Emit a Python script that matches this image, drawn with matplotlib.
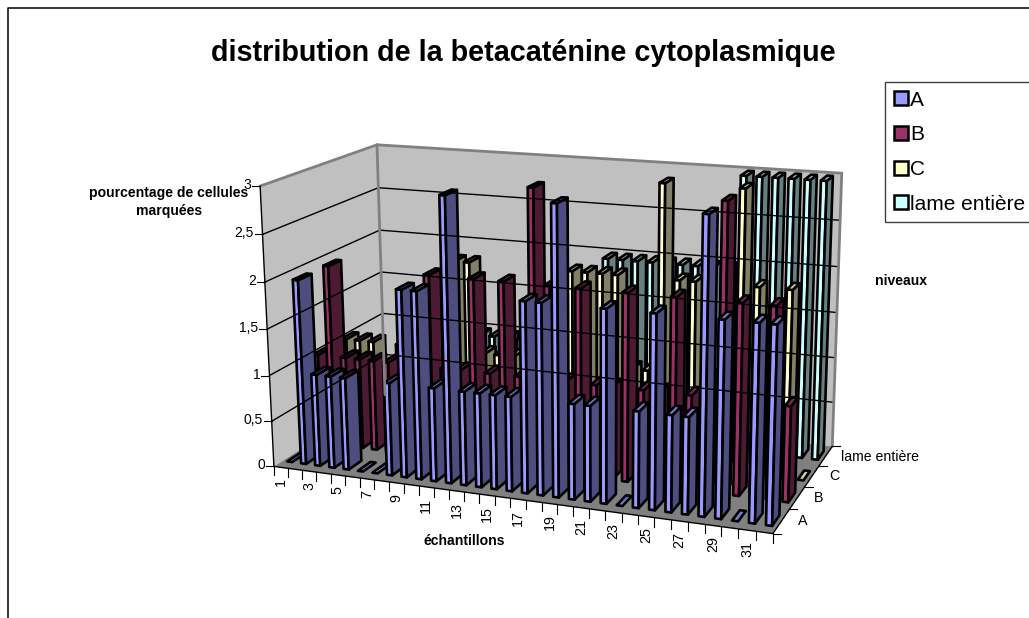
import numpy as np
import matplotlib
matplotlib.use('Agg')
import matplotlib.pyplot as plt
from matplotlib.patches import Patch

plt.rcParams['font.family'] = ['Liberation Sans', 'DejaVu Sans']

samples = list(range(1, 33))
levels = ['A', 'B', 'C', 'lame entière']

level_a = [0, 2, 1, 1, 1, 0, 0, 1, 2, 2, 1, 3, 1, 1, 1, 1, 2, 2, 3, 1, 1, 2, 0, 1, 2, 1, 1, 3, 2, 0, 2, 2]
level_b = [1, 2, 1, 1, 1, 1, 0, 1, 2, 1, 1, 2, 1, 2, 1, 3, 2, 1, 2, 1, 1, 2, 1, 1, 2, 1, 1, 3, 2, 1, 2, 1]
level_c = [1, 1, 1, 0, 1, 1, 1, 1, 2, 2, 1, 1, 1, 1, 1, 1, 2, 2, 2, 2, 1, 1, 3, 2, 2, 1, 1, 3, 2, 1, 2, 0]
level_l = [0, 0, 0, 0, 0, 1, 1, 1, 1, 1, 1, 1, 1, 1, 1, 1, 1, 2, 2, 2, 2, 2, 2, 2, 2, 2, 3, 3, 3, 3, 3, 3]
series = [level_a, level_b, level_c, level_l]

z_ticks = [0, 0.5, 1, 1.5, 2, 2.5, 3]
z_labels = ['0', '0,5', '1', '1,5', '2', '2,5', '3']

front_colors = ['#9999FF', '#993366', '#FFFFCC', '#CCFFFF']
side_colors = ['#4D4D80', '#4D1A33', '#808066', '#668080']
top_colors = ['#7A7ACC', '#7A2952', '#CCCCA3', '#A3CCCC']

nx, ny, nz = len(samples), len(levels), 3
bar_w = 0.36
bar_d = 0.44


# camera fitted on the corners of the chart box, in pixels of the picture
box_3d = [(0, 0, 0), (0, 0, nz), (0, ny, 0), (0, ny, nz), (nx, ny, 0), (nx, ny, nz), (nx, 0, 0)]
box_px = [(273, 467), (261, 186), (386, 394), (376, 145), (832, 447), (842, 173), (773, 533)]


def fit_camera(pts, pix):
    rows, rhs = [], []
    for (x, y, z), (u, v) in zip(pts, pix):
        rows.append([x, y, z, 1, 0, 0, 0, 0, -u * x, -u * y, -u * z])
        rows.append([0, 0, 0, 0, x, y, z, 1, -v * x, -v * y, -v * z])
        rhs += [u, v]
    p = np.linalg.lstsq(np.array(rows, float), np.array(rhs, float), rcond=None)[0]
    return np.append(p, 1).reshape(3, 4)


cam = fit_camera(box_3d, box_px)


def proj(x, y, z):
    u, v, w = cam @ np.array([x, y, z, 1.0])
    return u / w, v / w


def face(pts, **kw):
    xy = [proj(*p) for p in pts]
    ax.fill([p[0] for p in xy], [p[1] for p in xy], **kw)


def seg(a, b, **kw):
    pa, pb = proj(*a), proj(*b)
    ax.plot([pa[0], pb[0]], [pa[1], pb[1]], solid_capstyle='round', **kw)


fig = plt.figure(figsize=(10.29, 6.18), dpi=100)
ax = fig.add_axes([0, 0, 1, 1])
ax.set_xlim(0, 1029)
ax.set_ylim(618, 0)
ax.axis('off')

# cadre du graphique
ax.plot([7.5, 7.5, 1029], [618, 8, 8], color='black', lw=1.1)

# parois et sol
face([(0, 0, 0), (0, ny, 0), (0, ny, nz), (0, 0, nz)], fc='#C0C0C0', ec='none')
face([(0, ny, 0), (nx, ny, 0), (nx, ny, nz), (0, ny, nz)], fc='#C0C0C0', ec='none')
face([(0, 0, 0), (nx, 0, 0), (nx, ny, 0), (0, ny, 0)], fc='#808080', ec='none')

for z in z_ticks[1:-1]:
    seg((0, 0, z), (0, ny, z), color='black', lw=1)
    seg((0, ny, z), (nx, ny, z), color='black', lw=1)
seg((0, 0, nz), (0, ny, nz), color='#808080', lw=2)
seg((0, ny, nz), (nx, ny, nz), color='#808080', lw=2)
seg((0, ny, 0), (0, ny, nz), color='#808080', lw=2)
seg((nx, ny, 0), (nx, ny, nz), color='#808080', lw=2)

# axes
seg((0, 0, 0), (0, 0, nz), color='black', lw=1)
seg((0, 0, 0), (nx, 0, 0), color='black', lw=1)
seg((nx, 0, 0), (nx, ny, 0), color='black', lw=1)

for z, lab in zip(z_ticks, z_labels):
    u, v = proj(0, 0, z)
    ax.plot([u - 8, u], [v, v], color='black', lw=0.8)
    ax.text(u - 9, v - 1, lab, ha='right', va='center', fontsize=10)

for i in range(nx + 1):
    u, v = proj(i, 0, 0)
    ax.plot([u, u], [v, v + 9], color='black', lw=0.8)
for i in range(0, nx, 2):
    u, v = proj(i + 0.5, 0, 0)
    ax.text(u, v + 11, str(samples[i]), rotation=90, ha='center', va='top', fontsize=10.3)

for j in range(ny + 1):
    u, v = proj(nx, j, 0)
    ax.plot([u, u + 8], [v, v], color='black', lw=0.8)
for j, lab in enumerate(levels):
    u, v = proj(nx, j + 0.5, 0)
    if j == 3:
        ax.text(u + 15, v + 1, lab, ha='left', va='center', fontsize=10.2)
    else:
        ax.text(u + 17, v, lab, ha='left', va='center', fontsize=10.3)

# barres, du fond vers l'avant et de gauche à droite
off_x = (1 - bar_w) / 2
off_y = (1 - bar_d) / 2
for j in range(ny - 1, -1, -1):
    for i in range(nx):
        h = series[j][i]
        x0, x1 = i + off_x, i + off_x + bar_w
        y0, y1 = j + off_y, j + off_y + bar_d
        style = dict(ec='black', lw=1.9, joinstyle='round')
        if h > 0:
            face([(x0, y0, 0), (x1, y0, 0), (x1, y0, h), (x0, y0, h)], fc=front_colors[j], **style)
            face([(x1, y0, 0), (x1, y1, 0), (x1, y1, h), (x1, y0, h)], fc=side_colors[j], **style)
        face([(x0, y0, h), (x1, y0, h), (x1, y1, h), (x0, y1, h)], fc=top_colors[j], **style)

# textes
ax.text(523, 53, 'distribution de la betacaténine cytoplasmique', ha='center', va='center',
        fontsize=20.7, fontweight='bold')
ax.text(169, 202, 'pourcentage de cellules\nmarquées', ha='center', va='center',
        fontsize=10.1, fontweight='bold', linespacing=1.3)
ax.text(464, 541, 'échantillons', ha='center', va='center', fontsize=10.1, fontweight='bold')
ax.text(901, 281, 'niveaux', ha='center', va='center', fontsize=10.1, fontweight='bold')

handles = [Patch(fc=c, ec='black', lw=1.8) for c in front_colors]
leg = ax.legend(handles, levels, loc='upper left', bbox_to_anchor=(885, 82), bbox_transform=ax.transData,
                borderaxespad=0, fontsize=15, handlelength=0.66, handleheight=0.66, handletextpad=0.12,
                labelspacing=0.75, borderpad=0.42, fancybox=False, framealpha=1, edgecolor='#404040')
leg.get_frame().set_linewidth(1)

fig.savefig('out.png', dpi=100)
